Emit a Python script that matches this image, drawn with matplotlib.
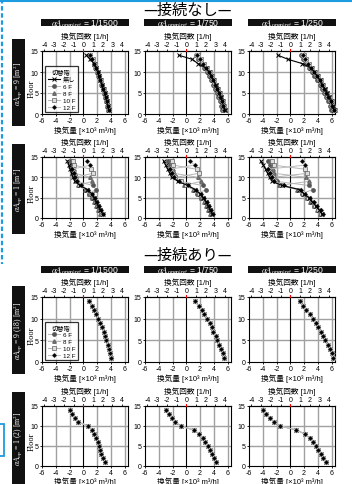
import matplotlib
matplotlib.use('Agg')
import matplotlib.pyplot as plt
from matplotlib.patches import Rectangle
from matplotlib.lines import Line2D

plt.rcParams['font.family'] = ['Liberation Sans', 'Noto Sans CJK JP']
plt.rcParams['mathtext.fontset'] = 'stix'
plt.rcParams['axes.unicode_minus'] = False

# ---------------- data (x: 換気量 [x10^3 m3/h], floors 1..14) ----------------
floors = [1, 2, 3, 4, 5, 6, 7, 8, 9, 10, 11, 12, 13, 14]
series_names = ['無し', '6 F', '8 F', '10 F', '12 F']
col_titles = ['1/1500', '1/750', '1/250']
row_labels = [r'$\alpha A_{\rm op}$ = 9 [m$^2$]', r'$\alpha A_{\rm op}$ = 1 [m$^2$]',
              r'$\alpha A_{\rm op}$ = 9 (18) [m$^2$]', r'$\alpha A_{\rm op}$ = 1 (2) [m$^2$]']
section_titles = ['—接続なし—', '—接続あり—']

# 接続なし, aA=9
r1c1_none = [3.7, 3.55, 3.4, 3.25, 3.1, 2.9, 2.7, 2.5, 2.3, 2.1, 1.85, 1.6, 1.0, 0.45]
r1c1_6f = [3.6, 3.45, 3.3, 3.15, 3.0, 2.8, 2.6, 2.4, 2.2, 2.0, 1.75, 1.5, 1.2, 0.9]
r1c1_8f = [3.65, 3.5, 3.35, 3.2, 3.05, 2.85, 2.65, 2.45, 2.25, 2.05, 1.8, 1.55, 1.25, 0.95]
r1c1_10f = [3.75, 3.6, 3.45, 3.3, 3.15, 2.95, 2.75, 2.55, 2.35, 2.15, 1.9, 1.65, 1.35, 1.0]
r1c1_12f = [3.7, 3.55, 3.4, 3.25, 3.1, 2.9, 2.7, 2.5, 2.3, 2.1, 1.85, 1.6, 1.3, 0.95]

r1c2_none = [5.6, 5.4, 5.2, 5.0, 4.75, 4.5, 4.25, 3.95, 3.65, 3.3, 2.8, 1.7, 0.9, -1.1]
r1c2_6f = [5.25, 5.05, 4.85, 4.65, 4.4, 4.15, 3.9, 3.6, 3.3, 2.95, 2.55, 2.15, 1.75, 1.4]
r1c2_8f = [5.4, 5.2, 5.0, 4.8, 4.55, 4.3, 4.05, 3.75, 3.45, 3.1, 2.7, 2.3, 1.9, 1.5]
r1c2_10f = [5.7, 5.5, 5.3, 5.1, 4.85, 4.6, 4.35, 4.05, 3.75, 3.4, 3.0, 2.6, 2.15, 1.75]
r1c2_12f = [5.55, 5.35, 5.15, 4.95, 4.7, 4.45, 4.2, 3.9, 3.6, 3.25, 2.85, 2.45, 2.0, 1.6]

r1c3_none = [6.35, 6.15, 5.9, 5.6, 5.3, 5.0, 4.65, 4.3, 3.9, 3.5, 3.0, 1.75, -0.3, -1.8]
r1c3_6f = [5.95, 5.75, 5.5, 5.2, 4.9, 4.6, 4.25, 3.9, 3.5, 3.1, 2.7, 2.25, 1.85, 1.5]
r1c3_8f = [6.15, 5.95, 5.7, 5.4, 5.1, 4.8, 4.45, 4.1, 3.7, 3.3, 2.9, 2.45, 2.05, 1.7]
r1c3_10f = [6.45, 6.25, 6.0, 5.7, 5.4, 5.1, 4.75, 4.4, 4.0, 3.6, 3.2, 2.75, 2.35, 2.0]
r1c3_12f = [6.3, 6.1, 5.85, 5.55, 5.25, 4.95, 4.6, 4.25, 3.85, 3.45, 3.05, 2.6, 2.2, 1.85]

# 接続なし, aA=1
r2c1_none = [2.8, 2.5, 2.2, 1.9, 1.6, 1.2, 0.6, -0.5, -1.2, -1.5, -1.7, -1.9, -2.1, -2.3]
r2c1_6f = [2.6, 2.3, 2.0, 1.7, 1.3, 0.8, 1.9, 1.4, -0.9, -1.1, -1.3, -1.5, -1.6, -1.8]
r2c1_8f = [2.5, 2.2, 1.9, 1.6, 1.3, 0.9, 0.3, -0.8, 1.3, 1.0, -1.2, -1.4, -1.5, -1.7]
r2c1_10f = [2.7, 2.4, 2.1, 1.8, 1.5, 1.1, 0.5, -0.6, -1.0, -1.2, 1.4, 1.1, -1.3, -1.5]
r2c1_12f = [2.9, 2.6, 2.3, 2.0, 1.7, 1.3, 0.7, -0.3, -0.9, -1.2, -1.4, -1.6, 1.0, 0.6]

r2c2_none = [3.8, 3.5, 3.2, 2.9, 2.5, 2.0, 1.3, 0.2, -1.2, -2.1, -2.4, -2.7, -3.0, -3.3]
r2c2_6f = [3.6, 3.3, 3.0, 2.7, 2.2, 1.6, 2.9, 2.4, -0.9, -1.7, -2.0, -2.2, -2.4, -2.6]
r2c2_8f = [3.5, 3.2, 2.9, 2.6, 2.2, 1.7, 1.0, -0.3, 2.1, 1.7, -1.8, -2.0, -2.2, -2.4]
r2c2_10f = [3.7, 3.4, 3.1, 2.8, 2.4, 1.9, 1.2, 0.0, -0.8, -1.6, 1.9, 1.5, -1.9, -2.1]
r2c2_12f = [3.9, 3.6, 3.3, 3.0, 2.6, 2.1, 1.4, 0.3, -1.0, -1.8, -2.1, -2.4, 1.2, 0.6]

r2c3_none = [4.6, 4.2, 3.7, 3.2, 2.7, 2.0, 1.3, -1.2, -2.6, -3.0, -3.3, -3.6, -3.9, -4.3]
r2c3_6f = [4.4, 4.0, 3.5, 3.0, 2.4, 1.7, 3.3, 2.7, -2.0, -2.4, -2.6, -2.8, -3.0, -3.2]
r2c3_8f = [4.3, 3.9, 3.4, 2.9, 2.4, 1.8, 1.0, -1.6, 2.7, 2.3, -2.3, -2.5, -2.7, -2.9]
r2c3_10f = [4.5, 4.1, 3.6, 3.1, 2.6, 1.9, 1.2, -1.4, -2.2, -2.5, 2.5, 2.1, -2.4, -2.6]
r2c3_12f = [4.8, 4.4, 3.9, 3.4, 2.9, 2.2, 1.5, -0.9, -2.3, -2.7, -3.0, -3.2, 2.1, 1.7]

# 接続あり (all switch floors give the same values)
r3c1 = [4.0, 3.85, 3.7, 3.55, 3.35, 3.15, 2.95, 2.7, 2.45, 2.15, 1.9, 1.6, 1.3, 0.9]
r3c2 = [5.5, 5.3, 5.05, 4.75, 4.5, 4.3, 3.95, 3.7, 3.4, 3.0, 2.6, 2.3, 1.8, 1.2]
r3c3 = [6.2, 6.0, 5.75, 5.45, 5.1, 4.8, 4.45, 4.1, 3.7, 3.25, 2.8, 2.35, 1.85, 1.35]
r4c1 = [3.1, 2.85, 2.6, 2.5, 2.25, 2.1, 1.85, 1.6, 1.3, 0.7, -0.75, -1.2, -1.65, -1.95]
r4c2 = [4.3, 4.05, 3.8, 3.5, 3.1, 2.75, 2.4, 1.9, 1.1, -0.8, -1.6, -2.1, -2.5, -2.9]
r4c3 = [5.15, 4.75, 4.4, 4.0, 3.7, 3.3, 2.8, 2.1, 0.9, -1.45, -2.4, -2.9, -3.5, -4.0]

grid_data = [
    [[r1c1_none, r1c1_6f, r1c1_8f, r1c1_10f, r1c1_12f],
     [r1c2_none, r1c2_6f, r1c2_8f, r1c2_10f, r1c2_12f],
     [r1c3_none, r1c3_6f, r1c3_8f, r1c3_10f, r1c3_12f]],
    [[r2c1_none, r2c1_6f, r2c1_8f, r2c1_10f, r2c1_12f],
     [r2c2_none, r2c2_6f, r2c2_8f, r2c2_10f, r2c2_12f],
     [r2c3_none, r2c3_6f, r2c3_8f, r2c3_10f, r2c3_12f]],
    [[None, r3c1, r3c1, r3c1, r3c1], [None, r3c2, r3c2, r3c2, r3c2], [None, r3c3, r3c3, r3c3, r3c3]],
    [[None, r4c1, r4c1, r4c1, r4c1], [None, r4c2, r4c2, r4c2, r4c2], [None, r4c3, r4c3, r4c3, r4c3]],
]

RATE = 1.41  # 1 [1/h] in x10^3 m3/h

# ---------------- layout (pixels) ----------------
W, H = 352, 485
col_x = [42, 145, 249]
col_w = 86
row_y = [(52, 115), (158, 219), (298, 363), (407, 467)]
bar_y = [(40, 127), (145, 235), (287, 375), (393, 485)]
head_y = [(20, 27), (267, 274)]
title_y = [10, 255]

styles = [
    dict(marker='x', color='black', ms=2.8, mew=0.7, lw=0.8, zorder=5),
    dict(marker='o', color='#b5b5b5', mfc='#555555', mec='#555555', ms=2.4, lw=0.7, zorder=3),
    dict(marker='^', color='#b5b5b5', mfc='#8a8a8a', mec='#666666', ms=2.5, lw=0.7, zorder=3),
    dict(marker='s', color='#b5b5b5', mfc='#dddddd', mec='#606060', ms=2.3, mew=0.5, lw=0.7, zorder=3),
    dict(marker='D', color='#bdbdbd', mfc='black', mec='white', ms=2.8, mew=0.3, lw=0.7, zorder=4),
]


def fbox(x0, y0, x1, y1):
    return [x0 / W, 1 - y1 / H, (x1 - x0) / W, (y1 - y0) / H]


fig = plt.figure(figsize=(W / 100, H / 100), dpi=100)
fig.patch.set_facecolor('white')

for s in range(2):
    fig.text(188 / W, 1 - title_y[s] / H, section_titles[s], ha='center', va='center',
             fontsize=11, family=['Noto Sans CJK JP'])
    for c in range(3):
        x0 = col_x[c] - 1
        fig.patches.append(Rectangle((x0 / W, 1 - head_y[s][1] / H), (col_w + 2) / W,
                                     (head_y[s][1] - head_y[s][0]) / H, transform=fig.transFigure,
                                     facecolor='#111111', edgecolor='none'))
        fig.text((x0 + (col_w + 2) / 2) / W, 1 - (head_y[s][0] + head_y[s][1]) / 2 / H - 0.001,
                 r'$\alpha A_{\rm opening}$ = ' + col_titles[c], color='white', ha='center',
                 va='center', fontsize=6.2)

for r in range(4):
    fig.patches.append(Rectangle((12 / W, 1 - bar_y[r][1] / H), 13 / W, (bar_y[r][1] - bar_y[r][0]) / H,
                                 transform=fig.transFigure, facecolor='#111111', edgecolor='none'))
    fig.text(18.5 / W, 1 - (bar_y[r][0] + bar_y[r][1]) / 2 / H, row_labels[r], color='white',
             rotation=90, ha='center', va='center', fontsize=5.5, family=['Liberation Serif'])

    for c in range(3):
        ax = fig.add_axes(fbox(col_x[c], row_y[r][0], col_x[c] + col_w, row_y[r][1]))
        ax.set_xlim(-6, 6.5)
        ax.set_ylim(0, 15)
        ax.set_xticks([-6, -4, -2, 0, 2, 4, 6])
        ax.set_yticks([0, 5, 10, 15])
        for gx in [-4, -2, 2, 4, 6]:
            ax.axvline(gx, color='#a0a0a0', lw=1.0, zorder=0)
        for gy in [5, 10]:
            ax.axhline(gy, color='#a0a0a0', lw=1.0, zorder=0)
        ax.axvline(0, color='black', lw=0.8, zorder=1)
        ax.tick_params(labelsize=5, length=1.5, width=0.6, pad=1)
        for sp in ax.spines.values():
            sp.set_linewidth(0.8)
        ax.set_xlabel('換気量 [×10³ m³/h]', fontsize=5.5, labelpad=1.0 if r < 3 else 0.3)

        secax = ax.secondary_xaxis('top', functions=(lambda x: x / RATE, lambda x: x * RATE))
        secax.set_xticks(range(-4, 5))
        secax.tick_params(labelsize=5, length=1.5, width=0.6, pad=1)
        secax.set_xlabel('換気回数 [1/h]', fontsize=5.5, labelpad=1.5)
        ax.plot([0, 0], [1.0, 1.03], transform=ax.get_xaxis_transform(), color='red', lw=0.8,
                clip_on=False, zorder=6)

        if c == 0:
            ax.text(-0.115, 0.42, 'Floor', transform=ax.transAxes, rotation=90, ha='center',
                    va='center', fontsize=6, family=['Liberation Serif'])

        data = grid_data[r][c]
        for k in [1, 2, 3, 4, 0]:
            if data[k] is None:
                continue
            ax.plot(data[k], floors, clip_on=False, **styles[k])

        if c == 0 and r in (0, 2):
            handles = []
            labels = []
            for k in range(5):
                if data[k] is None:
                    continue
                st = dict(styles[k])
                st.pop('zorder')
                handles.append(Line2D([], [], **st))
                labels.append(series_names[k])
            leg = ax.legend(handles, labels, title='切替階', loc='lower left',
                            bbox_to_anchor=(0.035, 0.025), borderaxespad=0, fontsize=4.5,
                            title_fontsize=4.5, frameon=True, fancybox=False, handlelength=2.0,
                            handletextpad=0.4, labelspacing=0.25, borderpad=0.4)
            leg.get_frame().set_edgecolor('black')
            leg.get_frame().set_linewidth(0.9)
            leg.set_zorder(10)

# blue screenshot marks
blue = '#1d9be0'
fig.lines.append(Line2D([0, 1], [1 - 1.5 / H, 1 - 1.5 / H], transform=fig.transFigure, color=blue, lw=1.5))
fig.lines.append(Line2D([2 / W, 2 / W], [1, 1 - 265 / H], transform=fig.transFigure, color=blue,
                        lw=1.6, dashes=(2, 1.2)))
fig.patches.append(Rectangle((-3 / W, 1 - 457 / H), 7 / W, 32 / H, transform=fig.transFigure,
                             fill=False, edgecolor=blue, lw=1.3))

fig.savefig('out.png', dpi=100)
